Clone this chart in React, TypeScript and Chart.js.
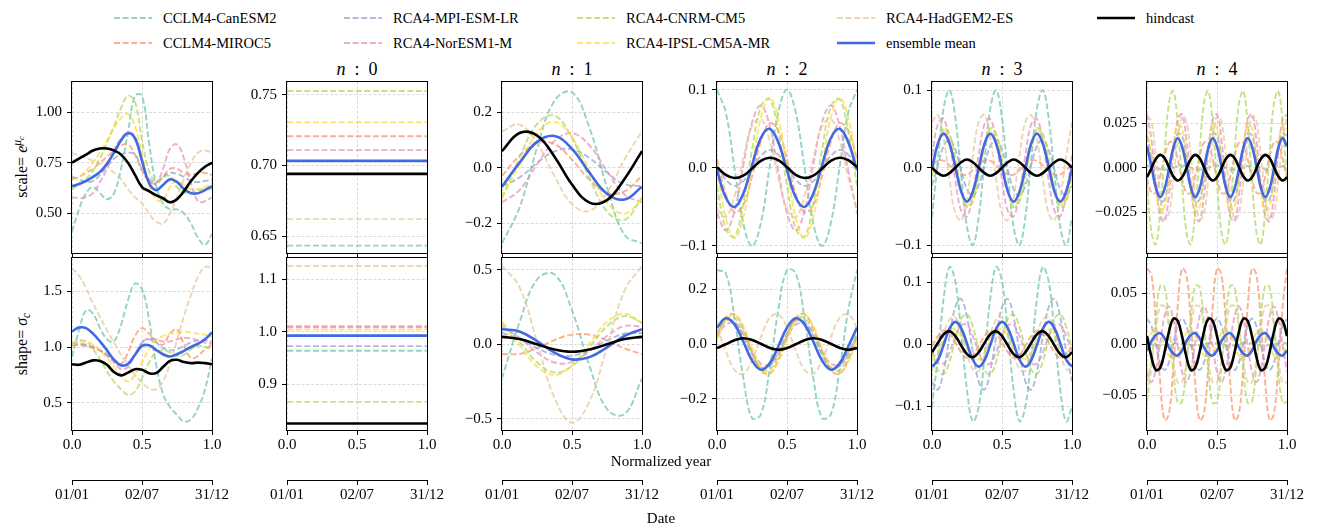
import React, { useEffect, useRef } from "react";
import { Chart, registerables } from "chart.js";

Chart.register(...registerables);

const FONT = "'Liberation Serif', 'DejaVu Serif', 'Noto Serif', serif";

const seriesNames = [
  "CCLM4-CanESM2",
  "CCLM4-MIROC5",
  "RCA4-MPI-ESM-LR",
  "RCA4-NorESM1-M",
  "RCA4-CNRM-CM5",
  "RCA4-IPSL-CM5A-MR",
  "RCA4-HadGEM2-ES",
  "ensemble mean",
  "hindcast",
];
const seriesColors = [
  "rgba(102,194,165,0.7)",
  "rgba(252,141,98,0.7)",
  "rgba(141,160,203,0.7)",
  "rgba(231,138,195,0.7)",
  "rgba(166,216,84,0.7)",
  "rgba(255,217,47,0.7)",
  "rgba(229,196,148,0.7)",
  "#4169e1",
  "#000000",
];

const xTickValues = [0, 0.5, 1];
const xTickLabels = ["0.0", "0.5", "1.0"];
const dateTickLabels = ["01/01", "02/07", "31/12"];
const harmonicTitles = ["0", "1", "2", "3", "4"];

// ---------- scale (row 1) ----------
const scaleFull = [
  [0.41, 0.52, 0.6, 0.63, 0.6, 0.57, 0.6, 0.72, 0.9, 1.08, 1.08, 0.85, 0.64, 0.55, 0.52, 0.52, 0.5, 0.45, 0.38, 0.345, 0.4],
  [0.67, 0.68, 0.7, 0.72, 0.75, 0.78, 0.81, 0.835, 0.84, 0.79, 0.71, 0.66, 0.645, 0.68, 0.72, 0.72, 0.7, 0.69, 0.7, 0.7, 0.69],
  [0.68, 0.67, 0.655, 0.66, 0.69, 0.73, 0.77, 0.79, 0.8, 0.79, 0.72, 0.67, 0.655, 0.68, 0.7, 0.695, 0.68, 0.66, 0.655, 0.66, 0.665],
  [0.58, 0.575, 0.58, 0.6, 0.655, 0.72, 0.81, 0.87, 0.9, 0.88, 0.76, 0.66, 0.65, 0.72, 0.82, 0.84, 0.77, 0.65, 0.56, 0.56, 0.58],
  [0.62, 0.64, 0.67, 0.71, 0.77, 0.85, 0.93, 1.02, 1.08, 1.05, 0.86, 0.71, 0.655, 0.68, 0.685, 0.63, 0.605, 0.6, 0.615, 0.62, 0.62],
  [0.665, 0.68, 0.71, 0.75, 0.8, 0.86, 0.92, 0.97, 0.99, 0.93, 0.79, 0.64, 0.57, 0.565, 0.63, 0.66, 0.64, 0.62, 0.62, 0.63, 0.65],
  [0.8, 0.785, 0.775, 0.76, 0.745, 0.73, 0.7, 0.67, 0.62, 0.58, 0.55, 0.5, 0.46, 0.45, 0.5, 0.58, 0.67, 0.75, 0.8, 0.81, 0.8],
  [0.634, 0.645, 0.66, 0.68, 0.705, 0.745, 0.8, 0.86, 0.895, 0.87, 0.76, 0.65, 0.615, 0.64, 0.668, 0.655, 0.62, 0.6, 0.6, 0.615, 0.634],
  [0.75, 0.77, 0.79, 0.81, 0.82, 0.82, 0.81, 0.79, 0.75, 0.69, 0.63, 0.61, 0.59, 0.575, 0.555, 0.57, 0.61, 0.66, 0.7, 0.73, 0.75],
];
const scaleN0 = [0.6432, 0.7208, 0.7033, 0.7109, 0.7528, 0.7307, 0.662, 0.7033, 0.6941];
const scaleN1 = [
  [-0.271, -0.143, 0.07, 0.241, 0.271, 0.143, -0.07, -0.241, -0.271],
  [-0.029, 0.043, 0.09, 0.085, 0.029, -0.043, -0.09, -0.085, -0.029],
  [-0.066, -0.035, 0.017, 0.059, 0.066, 0.035, -0.017, -0.059, -0.066],
  [-0.124, -0.08, 0.012, 0.096, 0.124, 0.08, -0.012, -0.096, -0.124],
  [-0.107, 0.036, 0.157, 0.187, 0.107, -0.036, -0.157, -0.187, -0.107],
  [-0.109, 0.01, 0.124, 0.165, 0.109, -0.01, -0.124, -0.165, -0.109],
  [0.131, 0.155, 0.089, -0.03, -0.131, -0.155, -0.089, 0.03, 0.131],
  [-0.068, 0.018, 0.093, 0.114, 0.068, -0.018, -0.093, -0.114, -0.068],
  [0.06, 0.125, 0.116, 0.04, -0.06, -0.125, -0.116, -0.04, 0.06],
];
const scaleN2 = [
  [0.1, 0.071, 0, -0.071, -0.1, -0.071, 0, 0.071, 0.1, 0.071, 0, -0.071, -0.1, -0.071, 0, 0.071, 0.1],
  [0.011, -0.033, -0.057, -0.048, -0.011, 0.033, 0.057, 0.048, 0.011, -0.033, -0.057, -0.048, -0.011, 0.033, 0.057, 0.048, 0.011],
  [0.001, -0.015, -0.023, -0.017, -0.001, 0.015, 0.023, 0.017, 0.001, -0.015, -0.023, -0.017, -0.001, 0.015, 0.023, 0.017, 0.001],
  [-0.058, -0.08, -0.055, 0.003, 0.058, 0.08, 0.055, -0.003, -0.058, -0.08, -0.055, 0.003, 0.058, 0.08, 0.055, -0.003, -0.058],
  [-0.023, -0.078, -0.088, -0.046, 0.023, 0.078, 0.088, 0.046, -0.023, -0.078, -0.088, -0.046, 0.023, 0.078, 0.088, 0.046, -0.023],
  [0, -0.064, -0.09, -0.064, 0, 0.064, 0.09, 0.064, 0, -0.064, -0.09, -0.064, 0, 0.064, 0.09, 0.064, 0],
  [-0.053, -0.063, -0.036, 0.012, 0.053, 0.063, 0.036, -0.012, -0.053, -0.063, -0.036, 0.012, 0.053, 0.063, 0.036, -0.012, -0.053],
  [-0.003, -0.038, -0.05, -0.033, 0.003, 0.038, 0.05, 0.033, -0.003, -0.038, -0.05, -0.033, 0.003, 0.038, 0.05, 0.033, -0.003],
  [0.001, -0.009, -0.013, -0.01, -0.001, 0.009, 0.013, 0.01, 0.001, -0.009, -0.013, -0.01, -0.001, 0.009, 0.013, 0.01, 0.001],
];
const scaleN3 = [
  [-0.064, 0.009, 0.077, 0.1, 0.064, -0.009, -0.077, -0.1, -0.064, 0.009, 0.077, 0.1, 0.064, -0.009, -0.077, -0.1, -0.064, 0.009, 0.077, 0.1, 0.064, -0.009, -0.077, -0.1, -0.064],
  [0.004, 0.009, 0.009, 0.003, -0.004, -0.009, -0.009, -0.003, 0.004, 0.009, 0.009, 0.003, -0.004, -0.009, -0.009, -0.003, 0.004, 0.009, 0.009, 0.003, -0.004, -0.009, -0.009, -0.003, 0.004],
  [-0.023, 0.003, 0.028, 0.036, 0.023, -0.003, -0.028, -0.036, -0.023, 0.003, 0.028, 0.036, 0.023, -0.003, -0.028, -0.036, -0.023, 0.003, 0.028, 0.036, 0.023, -0.003, -0.028, -0.036, -0.023],
  [0.016, 0.056, 0.063, 0.033, -0.016, -0.056, -0.063, -0.033, 0.016, 0.056, 0.063, 0.033, -0.016, -0.056, -0.063, -0.033, 0.016, 0.056, 0.063, 0.033, -0.016, -0.056, -0.063, -0.033, 0.016],
  [-0.011, 0.028, 0.051, 0.044, 0.011, -0.028, -0.051, -0.044, -0.011, 0.028, 0.051, 0.044, 0.011, -0.028, -0.051, -0.044, -0.011, 0.028, 0.051, 0.044, 0.011, -0.028, -0.051, -0.044, -0.011],
  [-0.006, 0.029, 0.048, 0.038, 0.006, -0.029, -0.048, -0.038, -0.006, 0.029, 0.048, 0.038, 0.006, -0.029, -0.048, -0.038, -0.006, 0.029, 0.048, 0.038, 0.006, -0.029, -0.048, -0.038, -0.006],
  [0.059, 0.068, 0.038, -0.015, -0.059, -0.068, -0.038, 0.015, 0.059, 0.068, 0.038, -0.015, -0.059, -0.068, -0.038, 0.015, 0.059, 0.068, 0.038, -0.015, -0.059, -0.068, -0.038, 0.015, 0.059],
  [-0.001, 0.031, 0.044, 0.031, 0.001, -0.031, -0.044, -0.031, -0.001, 0.031, 0.044, 0.031, 0.001, -0.031, -0.044, -0.031, -0.001, 0.031, 0.044, 0.031, 0.001, -0.031, -0.044, -0.031, -0.001],
  [0, -0.007, -0.0105, -0.007, 0, 0.007, 0.0105, 0.007, 0, -0.007, -0.0105, -0.007, 0, 0.007, 0.0105, 0.007, 0, -0.007, -0.0105, -0.007, 0, 0.007, 0.0105, 0.007, 0],
];
const scaleN4 = [
  [0.001, 0.001, 0, -0.001, -0.001, -0.001, 0, 0.001, 0.001, 0.001, 0, -0.001, -0.001, -0.001, 0, 0.001, 0.001, 0.001, 0, -0.001, -0.001, -0.001, 0, 0.001, 0.001, 0.001, 0, -0.001, -0.001, -0.001, 0, 0.001, 0.001],
  [-0.006, -0.014, -0.014, -0.005, 0.006, 0.014, 0.014, 0.005, -0.006, -0.014, -0.014, -0.005, 0.006, 0.014, 0.014, 0.005, -0.006, -0.014, -0.014, -0.005, 0.006, 0.014, 0.014, 0.005, -0.006, -0.014, -0.014, -0.005, 0.006, 0.014, 0.014, 0.005, -0.006],
  [0.018, 0.006, -0.01, -0.019, -0.018, -0.006, 0.01, 0.019, 0.018, 0.006, -0.01, -0.019, -0.018, -0.006, 0.01, 0.019, 0.018, 0.006, -0.01, -0.019, -0.018, -0.006, 0.01, 0.019, 0.018, 0.006, -0.01, -0.019, -0.018, -0.006, 0.01, 0.019, 0.018],
  [0.03, 0.016, -0.008, -0.027, -0.03, -0.016, 0.008, 0.027, 0.03, 0.016, -0.008, -0.027, -0.03, -0.016, 0.008, 0.027, 0.03, 0.016, -0.008, -0.027, -0.03, -0.016, 0.008, 0.027, 0.03, 0.016, -0.008, -0.027, -0.03, -0.016, 0.008, 0.027, 0.03],
  [-0.008, -0.036, -0.043, -0.025, 0.008, 0.036, 0.043, 0.025, -0.008, -0.036, -0.043, -0.025, 0.008, 0.036, 0.043, 0.025, -0.008, -0.036, -0.043, -0.025, 0.008, 0.036, 0.043, 0.025, -0.008, -0.036, -0.043, -0.025, 0.008, 0.036, 0.043, 0.025, -0.008],
  [0.022, 0.007, -0.012, -0.024, -0.022, -0.007, 0.012, 0.024, 0.022, 0.007, -0.012, -0.024, -0.022, -0.007, 0.012, 0.024, 0.022, 0.007, -0.012, -0.024, -0.022, -0.007, 0.012, 0.024, 0.022, 0.007, -0.012, -0.024, -0.022, -0.007, 0.012, 0.024, 0.022],
  [0.029, 0.026, 0.007, -0.015, -0.029, -0.026, -0.007, 0.015, 0.029, 0.026, 0.007, -0.015, -0.029, -0.026, -0.007, 0.015, 0.029, 0.026, 0.007, -0.015, -0.029, -0.026, -0.007, 0.015, 0.029, 0.026, 0.007, -0.015, -0.029, -0.026, -0.007, 0.015, 0.029],
  [0.012, 0.001, -0.011, -0.0165, -0.012, -0.001, 0.011, 0.0165, 0.012, 0.001, -0.011, -0.0165, -0.012, -0.001, 0.011, 0.0165, 0.012, 0.001, -0.011, -0.0165, -0.012, -0.001, 0.011, 0.0165, 0.012, 0.001, -0.011, -0.0165, -0.012, -0.001, 0.011, 0.0165, 0.012],
  [-0.0054, -0.0004, 0.0048, 0.0072, 0.0054, 0.0004, -0.0048, -0.0072, -0.0054, -0.0004, 0.0048, 0.0072, 0.0054, 0.0004, -0.0048, -0.0072, -0.0054, -0.0004, 0.0048, 0.0072, 0.0054, 0.0004, -0.0048, -0.0072, -0.0054, -0.0004, 0.0048, 0.0072, 0.0054, 0.0004, -0.0048, -0.0072, -0.0054],
];

// ---------- shape (row 2) ----------
const shapeFull = [
  [0.91, 1.15, 1.33, 1.3, 1.17, 1.07, 1.05, 1.2, 1.42, 1.57, 1.52, 1.25, 0.85, 0.58, 0.46, 0.39, 0.33, 0.35, 0.45, 0.62, 0.9],
  [1.02, 1.02, 1.01, 0.99, 0.97, 0.93, 0.89, 0.85, 0.95, 1.1, 1.17, 1.12, 1.05, 1.02, 1.12, 1.16, 1.02, 0.9, 0.92, 0.98, 1.02],
  [1.03, 1.03, 1.02, 1.0, 0.97, 0.93, 0.88, 0.83, 0.84, 0.93, 1.04, 1.07, 1.04, 0.99, 0.97, 0.98, 1.01, 1.04, 1.06, 1.06, 1.05],
  [1.02, 1.02, 1.01, 1.0, 0.97, 0.92, 0.86, 0.8, 0.82, 0.93, 1.04, 1.08, 1.07, 1.05, 1.05, 1.07, 1.08, 1.08, 1.06, 1.04, 1.03],
  [1.03, 1.06, 1.05, 0.98, 0.89, 0.78, 0.69, 0.62, 0.57, 0.6, 0.72, 0.86, 0.95, 0.97, 0.95, 0.92, 0.93, 0.98, 1.01, 1.0, 0.98],
  [1.02, 1.04, 1.05, 1.02, 0.97, 0.9, 0.82, 0.74, 0.69, 0.75, 0.86, 0.98, 1.06, 1.1, 1.12, 1.13, 1.14, 1.13, 1.12, 1.11, 1.09],
  [1.71, 1.64, 1.53, 1.39, 1.27, 1.15, 1.04, 0.93, 0.84, 0.75, 0.68, 0.63, 0.62, 0.69, 0.85, 1.06, 1.28, 1.47, 1.63, 1.72, 1.71],
  [1.14, 1.175, 1.17, 1.12, 1.05, 0.97, 0.885, 0.835, 0.85, 0.93, 1.01, 1.015, 0.975, 0.935, 0.915, 0.935, 0.965, 1.0, 1.03, 1.07, 1.13],
  [0.845, 0.84, 0.86, 0.88, 0.875, 0.84, 0.775, 0.745, 0.77, 0.8, 0.795, 0.765, 0.765, 0.82, 0.875, 0.885, 0.865, 0.855, 0.86, 0.855, 0.845],
];
const shapeN0 = [0.964, 1.009, 0.973, 1.0109, 0.8666, 1.0045, 1.1257, 0.9929, 0.8254];
const shapeN1 = [
  [-0.228, 0.146, 0.434, 0.468, 0.228, -0.146, -0.434, -0.468, -0.228],
  [-0.065, -0.064, -0.026, 0.028, 0.065, 0.064, 0.026, -0.028, -0.065],
  [0.076, 0.036, -0.025, -0.071, -0.076, -0.036, 0.025, 0.071, 0.076],
  [0.118, 0.044, -0.055, -0.122, -0.118, -0.044, 0.055, 0.122, 0.118],
  [0.146, 0.018, -0.121, -0.189, -0.146, -0.018, 0.121, 0.189, 0.146],
  [0.14, -0.006, -0.149, -0.205, -0.14, 0.006, 0.149, 0.205, 0.14],
  [0.525, 0.383, 0.016, -0.359, -0.525, -0.383, -0.016, 0.359, 0.525],
  [0.101, 0.086, 0.021, -0.056, -0.101, -0.086, -0.021, 0.056, 0.101],
  [0.05, 0.035, 0, -0.035, -0.05, -0.035, 0, 0.035, 0.05],
];
const shapeN2 = [
  [0.271, 0.259, 0.095, -0.124, -0.271, -0.259, -0.095, 0.124, 0.271, 0.259, 0.095, -0.124, -0.271, -0.259, -0.095, 0.124, 0.271],
  [0.028, 0.097, 0.109, 0.058, -0.028, -0.097, -0.109, -0.058, 0.028, 0.097, 0.109, 0.058, -0.028, -0.097, -0.109, -0.058, 0.028],
  [0.038, 0.085, 0.081, 0.03, -0.038, -0.085, -0.081, -0.03, 0.038, 0.085, 0.081, 0.03, -0.038, -0.085, -0.081, -0.03, 0.038],
  [0.025, 0.071, 0.076, 0.036, -0.025, -0.071, -0.076, -0.036, 0.025, 0.071, 0.076, 0.036, -0.025, -0.071, -0.076, -0.036, 0.025],
  [0.031, 0.089, 0.095, 0.045, -0.031, -0.089, -0.095, -0.045, 0.031, 0.089, 0.095, 0.045, -0.031, -0.089, -0.095, -0.045, 0.031],
  [0.014, 0.085, 0.107, 0.066, -0.014, -0.085, -0.107, -0.066, 0.014, 0.085, 0.107, 0.066, -0.014, -0.085, -0.107, -0.066, 0.014],
  [0.06, -0.024, -0.095, -0.109, -0.06, 0.024, 0.095, 0.109, 0.06, -0.024, -0.095, -0.109, -0.06, 0.024, 0.095, 0.109, 0.06],
  [0.06, 0.094, 0.072, 0.009, -0.06, -0.094, -0.072, -0.009, 0.06, 0.094, 0.072, 0.009, -0.06, -0.094, -0.072, -0.009, 0.06],
  [-0.015, -0.001, 0.014, 0.021, 0.015, 0.001, -0.014, -0.021, -0.015, -0.001, 0.014, 0.021, 0.015, 0.001, -0.014, -0.021, -0.015],
];
const shapeN3 = [
  [-0.101, -0.019, 0.074, 0.124, 0.101, 0.019, -0.074, -0.124, -0.101, -0.019, 0.074, 0.124, 0.101, 0.019, -0.074, -0.124, -0.101, -0.019, 0.074, 0.124, 0.101, 0.019, -0.074, -0.124, -0.101],
  [-0.003, 0.013, 0.022, 0.017, 0.003, -0.013, -0.022, -0.017, -0.003, 0.013, 0.022, 0.017, 0.003, -0.013, -0.022, -0.017, -0.003, 0.013, 0.022, 0.017, 0.003, -0.013, -0.022, -0.017, -0.003],
  [-0.06, -0.073, -0.043, 0.012, 0.06, 0.073, 0.043, -0.012, -0.06, -0.073, -0.043, 0.012, 0.06, 0.073, 0.043, -0.012, -0.06, -0.073, -0.043, 0.012, 0.06, 0.073, 0.043, -0.012, -0.06],
  [-0.012, -0.03, -0.031, -0.013, 0.012, 0.03, 0.031, 0.013, -0.012, -0.03, -0.031, -0.013, 0.012, 0.03, 0.031, 0.013, -0.012, -0.03, -0.031, -0.013, 0.012, 0.03, 0.031, 0.013, -0.012],
  [-0.009, -0.041, -0.048, -0.028, 0.009, 0.041, 0.048, 0.028, -0.009, -0.041, -0.048, -0.028, 0.009, 0.041, 0.048, 0.028, -0.009, -0.041, -0.048, -0.028, 0.009, 0.041, 0.048, 0.028, -0.009],
  [-0.024, -0.013, 0.005, 0.021, 0.024, 0.013, -0.005, -0.021, -0.024, -0.013, 0.005, 0.021, 0.024, 0.013, -0.005, -0.021, -0.024, -0.013, 0.005, 0.021, 0.024, 0.013, -0.005, -0.021, -0.024],
  [-0.043, -0.02, 0.015, 0.04, 0.043, 0.02, -0.015, -0.04, -0.043, -0.02, 0.015, 0.04, 0.043, 0.02, -0.015, -0.04, -0.043, -0.02, 0.015, 0.04, 0.043, 0.02, -0.015, -0.04, -0.043],
  [-0.036, -0.026, -0.001, 0.025, 0.036, 0.026, 0.001, -0.025, -0.036, -0.026, -0.001, 0.025, 0.036, 0.026, 0.001, -0.025, -0.036, -0.026, -0.001, 0.025, 0.036, 0.026, 0.001, -0.025, -0.036],
  [-0.013, 0.002, 0.016, 0.021, 0.013, -0.002, -0.016, -0.021, -0.013, 0.002, 0.016, 0.021, 0.013, -0.002, -0.016, -0.021, -0.013, 0.002, 0.016, 0.021, 0.013, -0.002, -0.016, -0.021, -0.013],
];
const shapeN4 = [
  [0.001, 0, -0.001, -0.001, -0.001, 0, 0.001, 0.001, 0.001, 0, -0.001, -0.001, -0.001, 0, 0.001, 0.001, 0.001, 0, -0.001, -0.001, -0.001, 0, 0.001, 0.001, 0.001, 0, -0.001, -0.001, -0.001, 0, 0.001, 0.001, 0.001],
  [0.074, 0.068, 0.023, -0.036, -0.074, -0.068, -0.023, 0.036, 0.074, 0.068, 0.023, -0.036, -0.074, -0.068, -0.023, 0.036, 0.074, 0.068, 0.023, -0.036, -0.074, -0.068, -0.023, 0.036, 0.074, 0.068, 0.023, -0.036, -0.074, -0.068, -0.023, 0.036, 0.074],
  [0.025, 0.018, 0, -0.018, -0.025, -0.018, 0, 0.018, 0.025, 0.018, 0, -0.018, -0.025, -0.018, 0, 0.018, 0.025, 0.018, 0, -0.018, -0.025, -0.018, 0, 0.018, 0.025, 0.018, 0, -0.018, -0.025, -0.018, 0, 0.018, 0.025],
  [-0.027, -0.037, -0.025, 0.001, 0.027, 0.037, 0.025, -0.001, -0.027, -0.037, -0.025, 0.001, 0.027, 0.037, 0.025, -0.001, -0.027, -0.037, -0.025, 0.001, 0.027, 0.037, 0.025, -0.001, -0.027, -0.037, -0.025, 0.001, 0.027, 0.037, 0.025, -0.001, -0.027],
  [-0.056, -0.021, 0.025, 0.057, 0.056, 0.021, -0.025, -0.057, -0.056, -0.021, 0.025, 0.057, 0.056, 0.021, -0.025, -0.057, -0.056, -0.021, 0.025, 0.057, 0.056, 0.021, -0.025, -0.057, -0.056, -0.021, 0.025, 0.057, 0.056, 0.021, -0.025, -0.057, -0.056],
  [0.001, 0.011, 0.014, 0.009, -0.001, -0.011, -0.014, -0.009, 0.001, 0.011, 0.014, 0.009, -0.001, -0.011, -0.014, -0.009, 0.001, 0.011, 0.014, 0.009, -0.001, -0.011, -0.014, -0.009, 0.001, 0.011, 0.014, 0.009, -0.001, -0.011, -0.014, -0.009, 0.001],
  [-0.037, -0.016, 0.015, 0.037, 0.037, 0.016, -0.015, -0.037, -0.037, -0.016, 0.015, 0.037, 0.037, 0.016, -0.015, -0.037, -0.037, -0.016, 0.015, 0.037, 0.037, 0.016, -0.015, -0.037, -0.037, -0.016, 0.015, 0.037, 0.037, 0.016, -0.015, -0.037, -0.037],
  [-0.006, 0.003, 0.009, 0.011, 0.006, -0.003, -0.009, -0.011, -0.006, 0.003, 0.009, 0.011, 0.006, -0.003, -0.009, -0.011, -0.006, 0.003, 0.009, 0.011, 0.006, -0.003, -0.009, -0.011, -0.006, 0.003, 0.009, 0.011, 0.006, -0.003, -0.009, -0.011, -0.006],
  [0.008, -0.012, -0.025, -0.023, -0.008, 0.012, 0.025, 0.023, 0.008, -0.012, -0.025, -0.023, -0.008, 0.012, 0.025, 0.023, 0.008, -0.012, -0.025, -0.023, -0.008, 0.012, 0.025, 0.023, 0.008, -0.012, -0.025, -0.023, -0.008, 0.012, 0.025, 0.023, 0.008],
];

// ---------- axes ----------
const scaleYRange = [[0.305, 1.148], [0.638, 0.7592], [-0.306, 0.308], [-0.109, 0.11], [-0.1103, 0.1107], [-0.0479, 0.0481]];
const scaleYTicks = [[0.5, 0.75, 1.0], [0.65, 0.7, 0.75], [-0.2, 0, 0.2], [-0.1, 0, 0.1], [-0.1, 0, 0.1], [-0.025, 0, 0.025]];
const scaleYTickLabels = [["0.50", "0.75", "1.00"], ["0.65", "0.70", "0.75"], ["\u22120.2", "0.0", "0.2"], ["\u22120.1", "0.0", "0.1"], ["\u22120.1", "0.0", "0.1"], ["\u22120.025", "0.000", "0.025"]];
const shapeYRange = [[0.254, 1.8], [0.813, 1.141], [-0.574, 0.578], [-0.315, 0.315], [-0.138, 0.1387], [-0.0836, 0.0842]];
const shapeYTicks = [[0.5, 1.0, 1.5], [0.9, 1.0, 1.1], [-0.5, 0, 0.5], [-0.2, 0, 0.2], [-0.1, 0, 0.1], [-0.05, 0, 0.05]];
const shapeYTickLabels = [["0.5", "1.0", "1.5"], ["0.9", "1.0", "1.1"], ["\u22120.5", "0.0", "0.5"], ["\u22120.2", "0.0", "0.2"], ["\u22120.1", "0.0", "0.1"], ["\u22120.05", "0.00", "0.05"]];

const GRID_COLOR = "rgba(176,176,176,0.6)";

const framePlugin = {
  id: "frameBox",
  afterDatasetsDraw(chart: any) {
    const { ctx, chartArea } = chart;
    const l = Math.round(chartArea.left) - 0.5;
    const t = Math.round(chartArea.top) - 0.5;
    const r = Math.round(chartArea.right) + 0.5;
    const b = Math.round(chartArea.bottom) + 0.5;
    ctx.save();
    ctx.strokeStyle = "#000";
    ctx.lineWidth = 1;
    ctx.setLineDash([]);
    ctx.strokeRect(l, t, r - l, b - t);
    ctx.restore();
  },
};

type PanelProps = {
  row: number;
  col: number;
  series: number[][];
  yRange: number[];
  yTicks: number[];
  yLabels: string[];
};

const YW = 62;
const RP = 30;
const TP = 8;

function Panel({ row, col, series, yRange, yTicks, yLabels }: PanelProps) {
  const ref = useRef<HTMLCanvasElement | null>(null);
  const plotLeft = 72 + 215 * col;
  const plotTop = row === 0 ? 82 : 258;
  const plotH = row === 0 ? 171 : 172;
  const XH1 = row === 0 ? 5 : 50;
  const XH2 = row === 0 ? 0 : 30;
  const W = YW + 140 + RP;
  const H = TP + plotH + XH1 + XH2;

  useEffect(() => {
    if (!ref.current) return;
    const font = { family: FONT, size: 15 };
    const datasets = series.map((vals, i) => ({
      label: seriesNames[i],
      data: vals.map((v, k) => ({ x: k / (vals.length - 1), y: v })),
      borderColor: seriesColors[i],
      backgroundColor: seriesColors[i],
      borderWidth: i < 7 ? 1.9 : 2.6,
      borderDash: i < 7 ? [6, 2.6] : [],
      pointRadius: 0,
      tension: 0.4,
      fill: false,
      order: 8 - i,
    }));
    const scales: any = {
      x: {
        type: "linear",
        position: "bottom",
        min: 0,
        max: 1,
        weight: 1,
        afterBuildTicks: (s: any) => {
          s.ticks = xTickValues.map((v) => ({ value: v }));
        },
        afterFit: (s: any) => {
          s.height = XH1;
          s.paddingLeft = 0;
          s.paddingRight = 0;
        },
        grid: { display: true, color: GRID_COLOR, lineWidth: 0.8, drawTicks: true, tickLength: 5, tickColor: "#000", tickWidth: 1 },
        border: { display: false, dash: [3, 1.8] },
        ticks: {
          display: row === 1,
          padding: 1,
          maxRotation: 0,
          autoSkip: false,
          color: "#000",
          font,
          callback: (_v: any, i: number) => xTickLabels[i],
        },
      },
      y: {
        type: "linear",
        position: "left",
        min: yRange[0],
        max: yRange[1],
        afterBuildTicks: (s: any) => {
          s.ticks = yTicks.map((v) => ({ value: v }));
        },
        afterFit: (s: any) => {
          s.width = YW;
          s.paddingTop = 0;
          s.paddingBottom = 0;
        },
        grid: { display: true, color: GRID_COLOR, lineWidth: 0.8, drawTicks: true, tickLength: 5, tickColor: "#000", tickWidth: 1 },
        border: { display: false, dash: [3, 1.8] },
        ticks: {
          padding: 5,
          autoSkip: false,
          color: "#000",
          font,
          callback: (_v: any, i: number) => yLabels[i],
        },
      },
    };
    if (row === 1) {
      scales.x2 = {
        type: "linear",
        axis: "x",
        position: "bottom",
        min: 0,
        max: 1,
        weight: 2,
        afterBuildTicks: (s: any) => {
          s.ticks = xTickValues.map((v) => ({ value: v }));
        },
        afterFit: (s: any) => {
          s.height = XH2;
          s.paddingLeft = 0;
          s.paddingRight = 0;
        },
        grid: { display: true, drawOnChartArea: false, drawTicks: true, tickLength: 5, tickColor: "#000", tickWidth: 1 },
        border: { display: true, color: "#000", width: 1 },
        ticks: {
          padding: 1,
          maxRotation: 0,
          autoSkip: false,
          color: "#000",
          font,
          callback: (_v: any, i: number) => dateTickLabels[i],
        },
      };
    }
    const chart = new Chart(ref.current, {
      type: "line",
      data: { datasets: datasets as any },
      options: {
        responsive: false,
        maintainAspectRatio: false,
        animation: false,
        events: [],
        layout: { autoPadding: false, padding: { left: 0, right: RP, top: TP, bottom: 0 } } as any,
        plugins: { legend: { display: false }, tooltip: { enabled: false }, title: { display: false } },
        scales,
      },
      plugins: [framePlugin],
    });
    return () => chart.destroy();
  }, []);

  return (
    <canvas
      ref={ref}
      width={W}
      height={H}
      style={{ position: "absolute", left: plotLeft - YW, top: plotTop - TP, width: W, height: H }}
    />
  );
}

function Legend() {
  const colX = [163, 393, 626, 886, 1146];
  const rowY = [18, 43];
  return (
    <>
      {seriesNames.map((name, i) => {
        const col = Math.floor(i / 2);
        const r = i % 2;
        const x = colX[col];
        const y = rowY[r];
        const dashed = i < 7;
        return (
          <React.Fragment key={name}>
            <svg
              width={42}
              height={10}
              style={{ position: "absolute", left: x - 51, top: y - 5 }}
            >
              <line
                x1={2}
                y1={5}
                x2={40}
                y2={5}
                stroke={seriesColors[i]}
                strokeWidth={dashed ? 1.9 : 2.6}
                strokeDasharray={dashed ? "6 2.6" : undefined}
              />
            </svg>
            <div
              style={{
                position: "absolute",
                left: x,
                top: y - 10,
                height: 20,
                lineHeight: "20px",
                fontSize: 14.5,
                whiteSpace: "nowrap",
              }}
            >
              {name}
            </div>
          </React.Fragment>
        );
      })}
    </>
  );
}

export default function App() {
  const scaleSeries = [scaleFull, scaleN0.map((v) => [v, v]), scaleN1, scaleN2, scaleN3, scaleN4];
  const shapeSeries = [shapeFull, shapeN0.map((v) => [v, v]), shapeN1, shapeN2, shapeN3, shapeN4];
  return (
    <div
      style={{
        position: "fixed",
        left: 0,
        top: 0,
        width: 1322,
        height: 528,
        background: "#fff",
        fontFamily: FONT,
        color: "#000",
        overflow: "hidden",
      }}
    >
      <Legend />
      {harmonicTitles.map((t, i) => (
        <div
          key={t}
          style={{
            position: "absolute",
            left: 72 + 215 * (i + 1),
            top: 59,
            width: 140,
            textAlign: "center",
            fontSize: 18,
            lineHeight: "20px",
            whiteSpace: "pre",
          }}
        >
          <i>n</i>
          {"\u2002:\u2002" + t}
        </div>
      ))}
      <div
        style={{
          position: "absolute",
          left: 22,
          top: 167,
          transform: "translate(-50%, -50%) rotate(-90deg)",
          whiteSpace: "nowrap",
          fontSize: 16,
          lineHeight: "20px",
        }}
      >
        scale= <i>e</i>
        <sup style={{ fontSize: "72%", verticalAlign: "0.55em", lineHeight: 0 }}>
          <i>μ</i>
          <sub style={{ fontSize: "75%", verticalAlign: "-0.3em", lineHeight: 0 }}>
            <i>c</i>
          </sub>
        </sup>
      </div>
      <div
        style={{
          position: "absolute",
          left: 22,
          top: 344,
          transform: "translate(-50%, -50%) rotate(-90deg)",
          whiteSpace: "nowrap",
          fontSize: 16,
          lineHeight: "20px",
        }}
      >
        shape= <i>σ</i>
        <sub style={{ fontSize: "72%", verticalAlign: "-0.25em", lineHeight: 0 }}>
          <i>c</i>
        </sub>
      </div>
      {scaleSeries.map((s, c) => (
        <Panel
          key={"s" + c}
          row={0}
          col={c}
          series={s}
          yRange={scaleYRange[c]}
          yTicks={scaleYTicks[c]}
          yLabels={scaleYTickLabels[c]}
        />
      ))}
      {shapeSeries.map((s, c) => (
        <Panel
          key={"h" + c}
          row={1}
          col={c}
          series={s}
          yRange={shapeYRange[c]}
          yTicks={shapeYTicks[c]}
          yLabels={shapeYTickLabels[c]}
        />
      ))}
      <div
        style={{
          position: "absolute",
          left: 561,
          width: 200,
          top: 451,
          lineHeight: "20px",
          textAlign: "center",
          fontSize: 15,
        }}
      >
        Normalized year
      </div>
      <div
        style={{
          position: "absolute",
          left: 561,
          width: 200,
          top: 508,
          lineHeight: "20px",
          textAlign: "center",
          fontSize: 15,
        }}
      >
        Date
      </div>
    </div>
  );
}
